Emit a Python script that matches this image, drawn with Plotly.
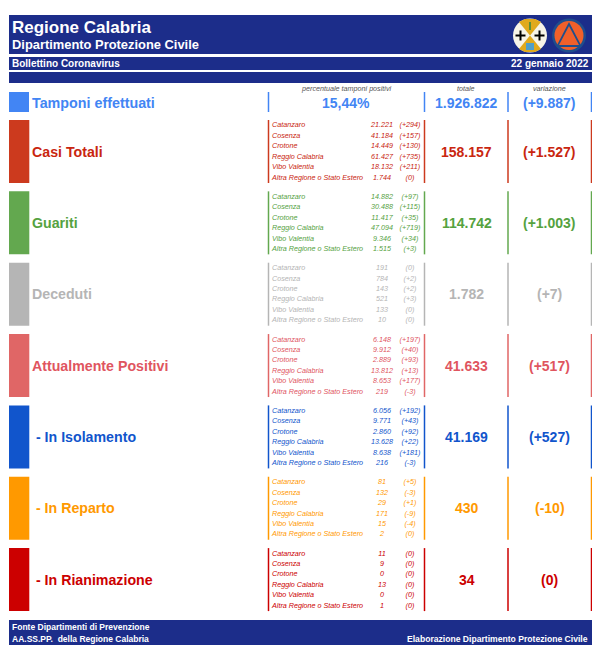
import plotly.graph_objects as go

FONT = "Liberation Sans"
NAVY = "#1c2d8a"
TAMPONI = "#4285f4"

provinces = ["Catanzaro", "Cosenza", "Crotone", "Reggio Calabria", "Vibo Valentia", "Altra Regione o Stato Estero"]
labels = ["Casi Totali", "Guariti", "Deceduti", "Attualmente Positivi", " - In Isolamento", " - In Reparto", " - In Rianimazione"]
colors = ["#cc3a1e", "#63a84f", "#b5b5b5", "#e06666", "#1155cc", "#ff9900", "#cc0000"]
text_colors = ["#c9260f", "#55a23f", "#b5b5b5", "#e0555f", "#1155cc", "#ff9900", "#cc0000"]
totals = ["158.157", "114.742", "1.782", "41.633", "41.169", "430", "34"]
changes = ["(+1.527)", "(+1.003)", "(+7)", "(+517)", "(+527)", "(-10)", "(0)"]

tamponi_captions = ["percentuale tamponi positivi", "totale", "variazione"]
tamponi_values = ["15,44%", "1.926.822", "(+9.887)"]

casi = ["21.221", "41.184", "14.449", "61.427", "18.132", "1.744"]
casi_var = ["(+294)", "(+157)", "(+130)", "(+735)", "(+211)", "(0)"]
guariti = ["14.882", "30.488", "11.417", "47.094", "9.346", "1.515"]
guariti_var = ["(+97)", "(+115)", "(+35)", "(+719)", "(+34)", "(+3)"]
deceduti = ["191", "784", "143", "521", "133", "10"]
deceduti_var = ["(0)", "(+2)", "(+2)", "(+3)", "(0)", "(0)"]
positivi = ["6.148", "9.912", "2.889", "13.812", "8.653", "219"]
positivi_var = ["(+197)", "(+40)", "(+93)", "(+13)", "(+177)", "(-3)"]
isolamento = ["6.056", "9.771", "2.860", "13.628", "8.638", "216"]
isolamento_var = ["(+192)", "(+43)", "(+92)", "(+22)", "(+181)", "(-3)"]
reparto = ["81", "132", "29", "171", "15", "2"]
reparto_var = ["(+5)", "(-3)", "(+1)", "(-9)", "(-4)", "(0)"]
rianimazione = ["11", "9", "0", "13", "0", "1"]
rianimazione_var = ["(0)", "(0)", "(0)", "(0)", "(0)", "(0)"]

values = [casi, guariti, deceduti, positivi, isolamento, reparto, rianimazione]
variations = [casi_var, guariti_var, deceduti_var, positivi_var, isolamento_var, reparto_var, rianimazione_var]

fig = go.Figure()
shapes = []
notes = []


def rect(x0, y0, x1, y1, color, layer="below"):
    shapes.append(dict(type="rect", x0=x0, y0=y0, x1=x1, y1=y1, fillcolor=color, line_width=0, layer=layer))


def vline(x, y0, y1, color):
    shapes.append(dict(type="line", x0=x, x1=x, y0=y0, y1=y1, line=dict(color=color, width=1.5)))


def circle(cx, cy, r, color):
    shapes.append(dict(type="circle", x0=cx - r, x1=cx + r, y0=cy - r, y1=cy + r, fillcolor=color, line_width=0))


def poly(points, color):
    path = "M " + " L ".join(f"{x} {y}" for x, y in points) + " Z"
    shapes.append(dict(type="path", path=path, fillcolor=color, line_width=0))


def label(x, y, text, size, color, anchor="left", bold=True, italic=False):
    notes.append(dict(x=x, y=y, text=text, showarrow=False, xanchor=anchor, yanchor="middle",
                      xref="x", yref="y",
                      font=dict(family=FONT, size=size, color=color,
                                weight="bold" if bold else "normal",
                                style="italic" if italic else "normal")))


# header bands
rect(9, 15, 592, 54, NAVY)
rect(9, 57, 592, 70, NAVY)
rect(9, 72, 592, 83, NAVY)
label(10, 27.5, "Regione Calabria", 17, "white")
label(10, 44.5, "Dipartimento Protezione Civile", 12.9, "white")
label(10, 63.5, "Bollettino Coronavirus", 10, "white")
label(591, 63.5, "22 gennaio 2022", 10, "white", anchor="right")

# regional crest
circle(530, 35.5, 17, "#f7f4e8")
poly([(530, 35.5), (519, 22), (525, 19), (535, 19), (541, 22)], "#e0a91c")
poly([(530, 35.5), (519, 49), (525, 52), (535, 52), (541, 49)], "#e0a91c")
rect(529, 22, 531, 30, "#5a8f3c", layer="above")
rect(526, 43, 534, 50, "#4f9fc9", layer="above")
for cx in [520.5, 539.5]:
    rect(cx - 5, 34.5, cx + 5, 36.5, "black", layer="above")
    rect(cx - 1, 30.5, cx + 1, 40.5, "black", layer="above")

# civil protection badge
circle(569, 35.5, 17, "#1f4e8c")
circle(569, 35.5, 14.5, "#f0602a")
poly([(569, 22), (582, 47), (556, 47)], "#1f4e8c")
poly([(569, 26), (579, 45), (559, 45)], "#f0602a")

# tamponi row
rect(9, 92, 29, 112, TAMPONI)
label(30, 103, "Tamponi effettuati", 14.3, TAMPONI)
for x in [268.5, 424.5, 508, 591.5]:
    vline(x, 92, 112, TAMPONI)
for x, caption, value in zip([346, 466, 549.5], tamponi_captions, tamponi_values):
    label(x, 88, caption, 7.2, "#555555", anchor="center", bold=False, italic=True)
    label(x, 103, value, 14, TAMPONI, anchor="center")

# footer
rect(9, 620, 592, 645, NAVY)
label(10, 626.5, "Fonte Dipartimenti di Prevenzione", 8.5, "white")
label(10, 639, "AA.SS.PP.  della Regione Calabria", 8.5, "white")
label(590, 639, "Elaborazione Dipartimento Protezione Civile", 8.6, "white", anchor="right")

# category blocks
for i in range(len(labels)):
    top = 120 + i * 71.35
    bottom = top + 63
    mid = top + 31.5
    rect(9, top, 29.3, bottom, colors[i])
    label(30, mid, labels[i], 14.2, text_colors[i])
    for x in [268.5, 424.5, 508, 591.5]:
        vline(x, top, bottom, colors[i])
    label(466.5, mid, totals[i], 14, text_colors[i], anchor="center")
    label(549.5, mid, changes[i], 14, text_colors[i], anchor="center")
    rows = [top + 5.7 + r * 10.42 for r in range(6)]
    fig.add_trace(go.Scatter(x=[272] * 6, y=rows, text=provinces, mode="text", textposition="middle right",
                             textfont=dict(family=FONT, size=7.2, color=text_colors[i], style="italic")))
    fig.add_trace(go.Scatter(x=[382] * 6, y=rows, text=values[i], mode="text", textposition="middle center",
                             textfont=dict(family=FONT, size=7.2, color=text_colors[i], style="italic")))
    fig.add_trace(go.Scatter(x=[410] * 6, y=rows, text=variations[i], mode="text", textposition="middle center",
                             textfont=dict(family=FONT, size=7.2, color=text_colors[i], style="italic")))

# the page keeps an 8px body margin, so the axes start at 8
fig.update_layout(width=592, height=643, margin=dict(l=0, r=0, t=0, b=0), showlegend=False,
                  plot_bgcolor="white", paper_bgcolor="white", shapes=shapes, annotations=notes)
fig.update_xaxes(range=[8, 600], visible=False)
fig.update_yaxes(range=[651, 8], visible=False)
fig.write_html("out.html")
